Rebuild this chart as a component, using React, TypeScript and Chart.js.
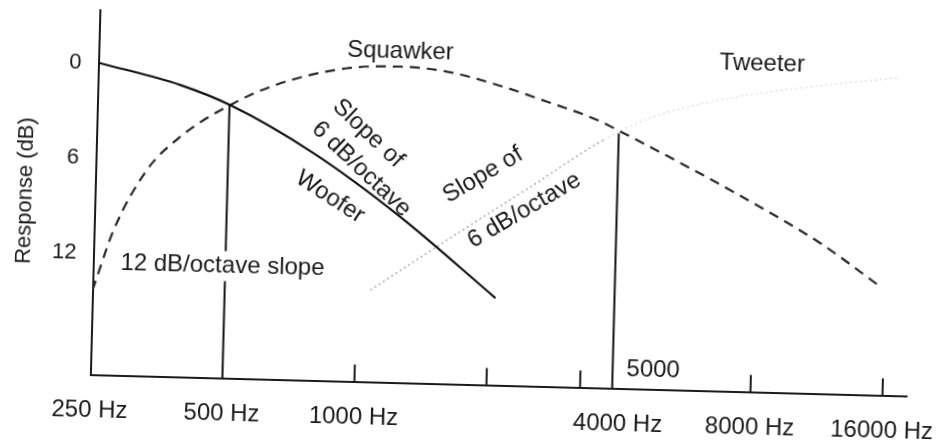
import React, { useEffect, useRef } from 'react';
import { Chart, registerables } from 'chart.js';

Chart.register(...registerables);

// ---- data (frequencies in Hz, response in dB; larger dB = further down) ----
const X_TICKS = [250, 500, 1000, 2000, 3270, 4000, 8000, 16000];
const X_TICK_LABELS = ['250 Hz', '500 Hz', '1000 Hz', '', '', '4000 Hz', '8000 Hz', '16000 Hz'];
const X_TICK_MARKS = [1000, 2000, 3270, 8000, 16000];
const Y_TICKS = [0, 6, 12];
const X_MIN = 250;
const X_MAX = 18160;
const Y_MIN = -3.31;
const Y_MAX = 19.68;

const WOOFER_HZ = [250, 385, 507, 781, 1245, 2072];
const WOOFER_DB = [0, 1.27, 2.51, 5.34, 9.23, 14.18];

const SQUAWKER_HZ = [250, 277, 327, 388, 507, 651, 922, 1219, 1559, 2031, 2646, 3449, 3972, 5567, 7935, 11330, 15607];
const SQUAWKER_DB = [14.35, 10.52, 6.69, 4.53, 2.38, 1.0, -0.06, -0.25, -0.01, 0.74, 1.72, 2.79, 3.58, 5.58, 7.79, 10.2, 12.84];

const TWEETER_HZ = [1074, 1622, 2452, 3575, 4560, 6571, 9980, 16565];
const TWEETER_DB = [13.89, 10.47, 7.12, 4.04, 2.57, 1.32, 0.43, -0.36];

const CROSSOVER_HZ = [500, 3870];
const CROSSOVER_DB = [2.45, 3.6];

const TEXTS = ['Squawker', 'Tweeter', '12 dB/octave slope', 'Slope of', '6 dB/octave', 'Woofer', 'Slope of', '6 dB/octave', '5000'];

// ---- layout / style ----
const FONT = '"Liberation Sans", Arial, Helvetica, sans-serif';
const INK = '#1a1a1a';
const ANNOT_POS = [
  { x: 396, y: 53.3, angle: 0 },
  { x: 758, y: 56.4, angle: 0 },
  { x: 223.7, y: 272.5, angle: 0, knockout: true },
  { x: 365.8, y: 136, angle: 42 },
  { x: 360, y: 172, angle: 42 },
  { x: 329.4, y: 200.7, angle: 31.5 },
  { x: 481.7, y: 174.8, angle: -32 },
  { x: 524, y: 209, angle: -32 },
  { x: 657, y: 365.2, angle: 0 },
];

const pts = (xs: number[], ys: number[]) => xs.map((x, i) => ({ x, y: ys[i] }));

const figurePlugin = {
  id: 'figureExtras',
  afterDatasetsDraw(chart: any) {
    const { ctx, chartArea, scales } = chart;
    const xs = scales.x;
    ctx.save();
    // inward tick marks on the frequency axis
    ctx.strokeStyle = INK;
    ctx.lineWidth = 2;
    X_TICK_MARKS.forEach((v) => {
      const px = xs.getPixelForValue(v);
      ctx.beginPath();
      ctx.moveTo(px, chartArea.bottom);
      ctx.lineTo(px, chartArea.bottom - 17);
      ctx.stroke();
    });
    // annotations
    ctx.font = `24px ${FONT}`;
    ctx.textAlign = 'center';
    ctx.textBaseline = 'middle';
    TEXTS.forEach((t, i) => {
      const p = ANNOT_POS[i];
      ctx.save();
      ctx.translate(p.x, p.y);
      ctx.rotate((p.angle * Math.PI) / 180);
      if (p.knockout) {
        const w = ctx.measureText(t).width;
        ctx.fillStyle = '#ffffff';
        ctx.fillRect(-w / 2 - 4, -15, w + 8, 30);
      }
      ctx.fillStyle = INK;
      ctx.fillText(t, 0, 0);
      ctx.restore();
    });
    ctx.restore();
  },
};

export default function App() {
  const ref = useRef<HTMLCanvasElement | null>(null);

  useEffect(() => {
    if (!ref.current) return;
    const chart = new Chart(ref.current, {
      type: 'line',
      data: {
        datasets: [
          {
            label: 'Woofer',
            data: pts(WOOFER_HZ, WOOFER_DB),
            borderColor: '#111111',
            borderWidth: 2.2,
            cubicInterpolationMode: 'monotone',
            pointRadius: 0,
            fill: false,
          },
          {
            label: 'Squawker',
            data: pts(SQUAWKER_HZ, SQUAWKER_DB),
            borderColor: '#2a2a2a',
            borderWidth: 2.2,
            borderDash: [10, 7],
            cubicInterpolationMode: 'monotone',
            pointRadius: 0,
            fill: false,
          },
          {
            label: 'Tweeter',
            data: pts(TWEETER_HZ, TWEETER_DB),
            borderColor: '#b0b0b0',
            borderWidth: 1.6,
            borderDash: [2, 3],
            cubicInterpolationMode: 'monotone',
            pointRadius: 0,
            fill: false,
            segment: {
              borderColor: (c: any) => (c.p0.parsed.x >= 3575 ? '#e4e4e4' : '#b0b0b0'),
            },
          },
          ...CROSSOVER_HZ.map((hz, i) => ({
            label: `Crossover ${i + 1}`,
            data: [
              { x: hz, y: Y_MAX },
              { x: hz, y: CROSSOVER_DB[i] },
            ],
            borderColor: '#111111',
            borderWidth: 2,
            pointRadius: 0,
            tension: 0,
            fill: false,
          })),
        ],
      },
      options: {
        responsive: false,
        animation: false,
        devicePixelRatio: 1,
        layout: { padding: { left: 0, right: 29, top: 20, bottom: 0 } },
        plugins: { legend: { display: false }, tooltip: { enabled: false } },
        scales: {
          x: {
            type: 'logarithmic',
            min: X_MIN,
            max: X_MAX,
            bounds: 'data',
            border: { display: true, color: INK, width: 2 },
            grid: { display: false, drawTicks: false },
            ticks: {
              autoSkip: false,
              maxRotation: 0,
              minRotation: 0,
              padding: 21,
              color: INK,
              font: { family: FONT, size: 24 },
              callback: (_v: any, i: number) => X_TICK_LABELS[i] ?? '',
            },
            afterBuildTicks: (s: any) => {
              s.ticks = X_TICKS.map((v) => ({ value: v }));
            },
            afterFit: (s: any) => {
              s.height = 58.5;
              s.paddingLeft = 0;
              s.paddingRight = 0;
            },
          },
          y: {
            type: 'linear',
            reverse: true,
            min: Y_MIN,
            max: Y_MAX,
            bounds: 'data',
            border: { display: true, color: INK, width: 2 },
            grid: { display: false, drawTicks: false },
            ticks: {
              padding: 17,
              color: INK,
              font: { family: FONT, size: 22 },
              callback: (v: any) => String(v),
            },
            afterBuildTicks: (s: any) => {
              s.ticks = Y_TICKS.map((v) => ({ value: v }));
            },
            afterFit: (s: any) => {
              s.width = 94.5;
              s.paddingTop = 0;
              s.paddingBottom = 0;
            },
            title: {
              display: true,
              text: 'Response (dB)',
              color: INK,
              font: { family: FONT, size: 22 },
              padding: { top: 11.4, bottom: 0 },
            },
          },
        },
      },
      plugins: [figurePlugin],
    } as any);
    return () => chart.destroy();
  }, []);

  return (
    <div
      style={{
        position: 'fixed',
        left: 0,
        top: 0,
        width: 940,
        height: 443,
        background: '#ffffff',
        overflow: 'hidden',
      }}
    >
      <canvas
        ref={ref}
        width={940}
        height={443}
        style={{
          display: 'block',
          width: 940,
          height: 443,
          transform: 'rotate(1.5deg)',
          transformOrigin: '470px 221.5px',
        }}
      />
    </div>
  );
}
